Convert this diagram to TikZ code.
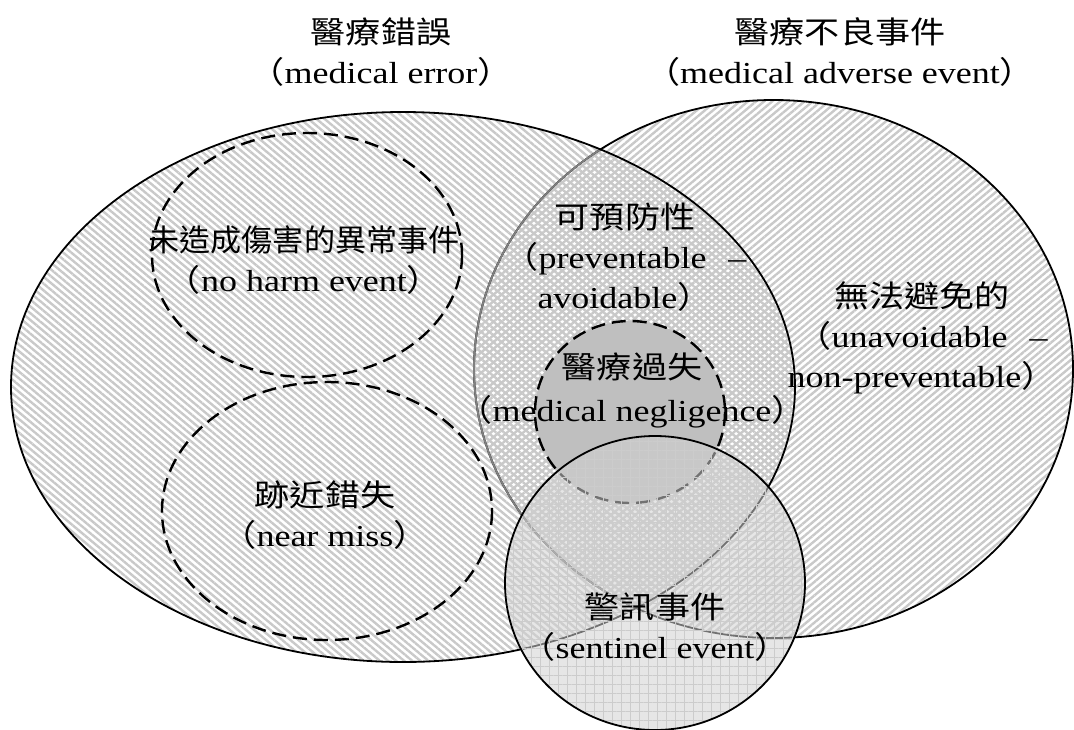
\documentclass[tikz,border=0pt]{standalone}
\usepackage{fontspec}
\setmainfont{Liberation Serif}[FakeStretch=1.18]
\newfontfamily\cjk{Noto Sans CJK TC}[FakeStretch=1.15]
\newfontfamily\cjknarrow{Noto Sans CJK TC}[FakeStretch=1.02]
\usetikzlibrary{patterns.meta}

\newcommand{\zlp}{{\cjk （}}
\newcommand{\zrp}{{\cjk ）}}

\begin{document}
\begin{tikzpicture}[
            x = 1pt, y = -1pt, % pixel grid, origin at top left
            setline/.style = {line width = 1.8pt}, % solid set border
            dashedset/.style = {line width = 2.4pt, dash pattern = on 14pt off 7pt}, % dashed subset border
            settext/.style = {align = center, inner sep = 0pt,
                font = \fontsize{30.5}{40}\selectfont} % set labels
        ]

        \tikzstyle{error hatch}=[
            pattern = {Lines[angle=-40, distance=5.2pt, line width=2.4pt]},
            pattern color = black!21
        ]
        \tikzstyle{adverse hatch}=[
            pattern = {Lines[angle=40, distance=5.2pt, line width=2.4pt]},
            pattern color = black!21
        ]
        \tikzstyle{sentinel grid}=[
            pattern = {Hatch[angle=0, distance=9pt, line width=0.7pt]},
            pattern color = black!20
        ]

        \useasboundingbox (0,0) rectangle (1074,729);

        \coordinate (error) at (403,387);
        \coordinate (adverse) at (773.5,369);
        \coordinate (noharm) at (307,255);
        \coordinate (nearmiss) at (327,511);
        \coordinate (neglig) at (630,412);
        \coordinate (sentinel) at (655,583);

        % the two big sets
        \path[adverse hatch] (adverse) ellipse [x radius=299.5, y radius=269];
        \path[error hatch] (error) ellipse [x radius=392, y radius=275];
        \draw[setline] (adverse) ellipse [x radius=299.5, y radius=269];
        \begin{scope}
            \clip (error) ellipse [x radius=392, y radius=275];
            \draw[setline, black!50] (adverse) ellipse [x radius=299.5, y radius=269];
        \end{scope}
        \draw[setline] (error) ellipse [x radius=392, y radius=275];

        % dashed subsets
        \draw[dashedset] (noharm) ellipse [x radius=155, y radius=122];
        \draw[dashedset] (nearmiss) ellipse [x radius=165, y radius=129];
        \draw[dashedset, fill=black!25] (neglig) ellipse [x radius=95, y radius=91];

        % sentinel event
        \fill[black!18, fill opacity=0.55] (sentinel) ellipse [x radius=150, y radius=147];
        \path[sentinel grid] (sentinel) ellipse [x radius=150, y radius=147];
        \draw[setline] (sentinel) ellipse [x radius=150, y radius=147];

        % labels
        \node[settext] (errtitle) at (381,52) {{\cjk 醫療錯誤}\\\zlp medical error\zrp};
        \node[settext] (advtitle) at (840,52) {{\cjk 醫療不良事件}\\\zlp medical adverse event\zrp};
        \node[settext] (noharmtext) at (304,260) {{\cjknarrow 未造成傷害的異常事件}\\\zlp no harm event\zrp};
        \node[settext] (preventtext) at (625,257) {{\cjk 可預防性}\\\zlp preventable\hspace{22pt}--\\avoidable\zrp};
        \node[settext] (unavoidtext) at (922,338) {{\cjk 無法避免的}\\\zlp unavoidable\hspace{22pt}--\\non-preventable\zrp};
        \node[settext] (negligtext) at (632,390) {{\cjk 醫療過失}\\[3pt]\zlp medical negligence\zrp};
        \node[settext] (nearmisstext) at (325,515) {{\cjk 跡近錯失}\\\zlp near miss\zrp};
        \node[settext] (sentineltext) at (655,627) {{\cjk 警訊事件}\\\zlp sentinel event\zrp};
    \end{tikzpicture}
\end{document}
